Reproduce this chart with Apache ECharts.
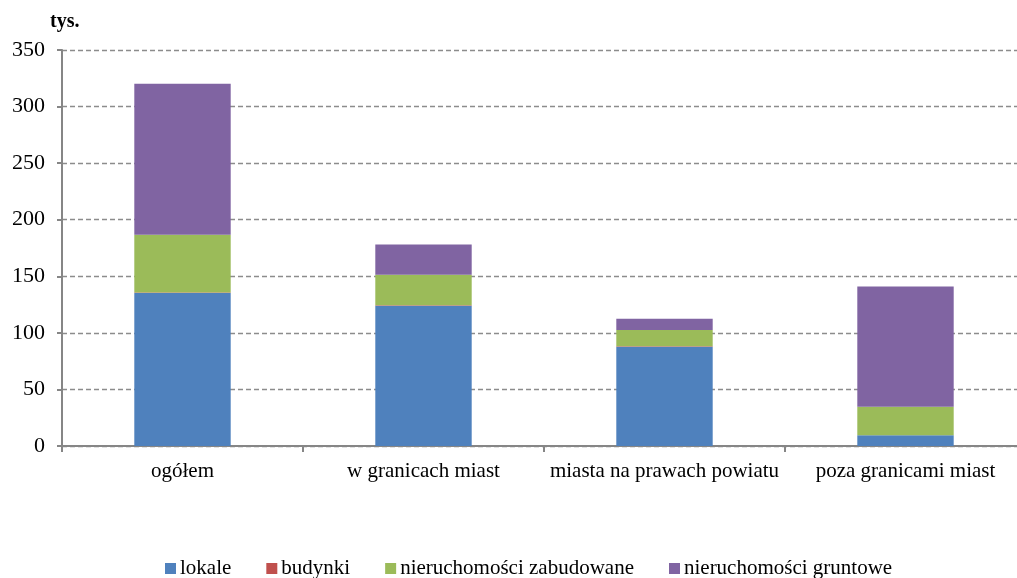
<!DOCTYPE html>
<html><head><meta charset="utf-8">
<script src="https://cdn.jsdelivr.net/npm/echarts@6/dist/echarts.min.js"></script>
<style>html,body{margin:0;padding:0;background:#fff;overflow:hidden;width:1017px;height:578px}#c{width:1026px;height:578px}</style>
</head><body><div id="c"></div>
<script>
const categories = ['ogółem', 'w granicach miast', 'miasta na prawach powiatu', 'poza granicami miast'];
const lokale = [135.2, 124.0, 87.8, 9.4];
const budynki = [0.5, 0.5, 0.3, 0.2];
const zabudowane = [51.0, 26.9, 14.4, 25.0];
const gruntowe = [133.5, 26.8, 10.0, 106.3];
const yTicks = [0, 50, 100, 150, 200, 250, 300, 350];

const font = 'Liberation Serif';
const mk = (name, data, color) => ({
  name, type: 'bar', stack: 's', data, barWidth: '40%',
  itemStyle: { color }
});
const chart = echarts.init(document.getElementById('c'));
chart.setOption({
  animation: false,
  textStyle: { fontFamily: font },
  grid: { left: 62, right: 0, top: 50, bottom: 132 },
  graphic: [{ type: 'text', left: 50, top: 12, style: { text: 'tys.', font: 'bold 20px "Liberation Serif"', fill: '#000' } }],
  legend: {
    top: 553, left: 160, itemWidth: 11, itemHeight: 11, itemGap: 35,
    icon: 'rect',
    textStyle: { fontFamily: font, fontSize: 21, color: '#000', padding: [0, 0, 0, -1] },
    data: ['lokale', 'budynki', 'nieruchomości zabudowane', 'nieruchomości gruntowe']
  },
  xAxis: {
    type: 'category', data: categories,
    axisLine: { lineStyle: { color: '#868686', width: 2 } },
    axisTick: { show: true, length: 6, lineStyle: { color: '#868686', width: 2 } },
    axisLabel: { fontFamily: font, fontSize: 21, color: '#000', margin: 15, interval: 0 }
  },
  yAxis: {
    type: 'value', min: 0, max: 350, interval: 50,
    axisLine: { show: true, lineStyle: { color: '#868686', width: 2 } },
    axisTick: { show: true, length: 5, lineStyle: { color: '#868686', width: 2 } },
    axisLabel: { fontFamily: font, fontSize: 22, color: '#000', margin: 17,
      formatter: v => yTicks.includes(v) ? String(v) : '' },
    splitLine: { lineStyle: { color: '#8c8c8c', type: [5, 3], width: 1.3 } }
  },
  series: [
    mk('lokale', lokale, '#4f81bd'),
    mk('budynki', budynki, '#c0504d'),
    mk('nieruchomości zabudowane', zabudowane, '#9bbb59'),
    mk('nieruchomości gruntowe', gruntowe, '#8064a2')
  ]
});
</script></body></html>
